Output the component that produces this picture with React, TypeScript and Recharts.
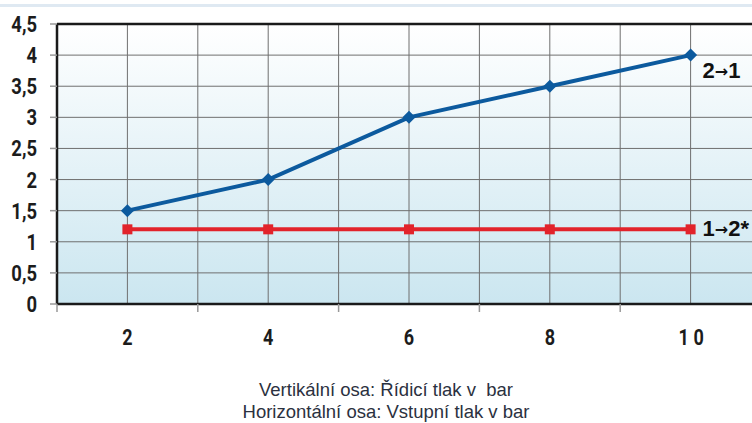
import React from "react";
import {
  LineChart,
  Line,
  XAxis,
  YAxis,
  CartesianGrid,
  ReferenceLine,
  LabelList,
} from "recharts";

const pressures = [2, 4, 6, 8, 10];
const route21 = [1.5, 2, 3, 3.5, 4];
const route12 = [1.2, 1.2, 1.2, 1.2, 1.2];
const xTicks = [1, 2, 3, 4, 5, 6, 7, 8, 9, 10, 11];
const yTicks = [0, 0.5, 1, 1.5, 2, 2.5, 3, 3.5, 4, 4.5];
const seriesNames = ["2→1", "1→2*"];
const captions = ["Vertikální osa: Řídicí tlak v  bar", "Horizontální osa: Vstupní tlak v bar"];

const data = pressures.map((p, i) => ({ p, a: route21[i], b: route12[i] }));

const BLUE = "#0c5a9e";
const RED = "#e2232b";
const tickFont = 'Roboto, "Liberation Sans", sans-serif';

// condensed look: squeeze the glyphs horizontally
function NarrowText({ x, y, anchor, size, children }: any) {
  return (
    <text
      transform={`translate(${x},${y}) scale(0.82,1)`}
      textAnchor={anchor}
      fontFamily={tickFont}
      fontSize={size}
      fontWeight={700}
      fill="#1c1c1c"
    >
      {children}
    </text>
  );
}

function XTick(props: any) {
  const { x, y, payload } = props;
  const v = payload.value as number;
  if (v % 2 === 1) {
    return <line x1={x} x2={x} y1={y} y2={y + 8} stroke="#999" strokeWidth={1.5} />;
  }
  if (v > 10) return null;
  if (v >= 10) {
    // the source spaces out the two digits of "10"
    const [a, b] = String(v).split("");
    return (
      <g>
        <NarrowText x={x - 7} y={y + 41} anchor="middle" size={22}>{a}</NarrowText>
        <NarrowText x={x + 8} y={y + 41} anchor="middle" size={22}>{b}</NarrowText>
      </g>
    );
  }
  return (
    <NarrowText x={x} y={y + 41} anchor="middle" size={22}>
      {v}
    </NarrowText>
  );
}

function YTick(props: any) {
  const { x, y, payload } = props;
  return (
    <NarrowText x={x} y={y + 8} anchor="end" size={22.5}>
      {String(payload.value).replace(".", ",")}
    </NarrowText>
  );
}

function Diamond(props: any) {
  const { cx, cy, index } = props;
  const r = 6.5;
  return (
    <path
      key={"d" + index}
      d={`M${cx},${cy - r}L${cx + r},${cy}L${cx},${cy + r}L${cx - r},${cy}Z`}
      fill={BLUE}
    />
  );
}

function Square(props: any) {
  const { cx, cy, index } = props;
  const s = 5;
  return <rect key={"s" + index} x={cx - s} y={cy - s} width={s * 2} height={s * 2} fill={RED} />;
}

function endLabel(name: string, dy: number) {
  return (props: any) => {
    const { x, y, index } = props;
    if (index !== pressures.length - 1) return null;
    const [from, to] = name.split("→");
    return (
      <text
        x={x + 12}
        y={y + dy}
        fontFamily='"Liberation Sans", Arial, sans-serif'
        fontSize={22}
        fontWeight={700}
        fill="#111"
      >
        {from}
        <tspan fontFamily='"DejaVu Sans", sans-serif' fontSize={16} fontWeight={700} dy={-1}>→</tspan>
        <tspan dy={1}>{to}</tspan>
      </text>
    );
  };
}

export default function App() {
  return (
    <div
      style={{
        position: "absolute",
        left: 0,
        top: 0,
        width: 752,
        height: 423,
        overflow: "hidden",
        background: "#fff",
      }}
    >
      <div style={{ position: "absolute", left: 0, top: 4, width: 752, height: 3, background: "#dfe9f2" }} />
      <LineChart width={780} height={360} data={data} margin={{ top: 24, right: 19, bottom: 0, left: 0 }}>
        <defs>
          <linearGradient id="plotBg" x1="0" y1="0" x2="0" y2="1">
            <stop offset="0%" stopColor="#ffffff" />
            <stop offset="100%" stopColor="#cbe6f0" />
          </linearGradient>
        </defs>
        <CartesianGrid stroke="#6f6f6f" strokeWidth={1} fill="url(#plotBg)" />
        <XAxis
          type="number"
          dataKey="p"
          domain={[1, 11]}
          ticks={xTicks}
          height={56}
          tickSize={0}
          tickMargin={0}
          tickLine={false}
          axisLine={{ stroke: "#1a1a1a", strokeWidth: 2.5 }}
          tick={<XTick />}
          interval={0}
        />
        <YAxis
          type="number"
          domain={[0, 4.5]}
          ticks={yTicks}
          width={57}
          interval={0}
          tickSize={7}
          tickMargin={13}
          tickLine={{ stroke: "#999", strokeWidth: 1.5 }}
          axisLine={{ stroke: "#1a1a1a", strokeWidth: 2.5 }}
          tick={<YTick />}
        />
        <ReferenceLine y={4.5} stroke="#1a1a1a" strokeWidth={2.5} />
        <Line
          dataKey="b"
          stroke={RED}
          strokeWidth={4}
          dot={Square}
          activeDot={false}
          isAnimationActive={false}
        >
          <LabelList dataKey="b" content={endLabel(seriesNames[1], 7)} />
        </Line>
        <Line
          dataKey="a"
          stroke={BLUE}
          strokeWidth={4}
          dot={Diamond}
          activeDot={false}
          isAnimationActive={false}
        >
          <LabelList dataKey="a" content={endLabel(seriesNames[0], 23)} />
        </Line>
      </LineChart>
      <div
        style={{
          position: "absolute",
          left: 0,
          top: 379,
          width: 772,
          textAlign: "center",
          fontFamily: '"Liberation Sans", Arial, sans-serif',
          fontSize: 18.5,
          lineHeight: "22px",
          color: "#2b3140",
          whiteSpace: "pre",
        }}
      >
        {captions.map((c) => (
          <div key={c}>{c}</div>
        ))}
      </div>
    </div>
  );
}
